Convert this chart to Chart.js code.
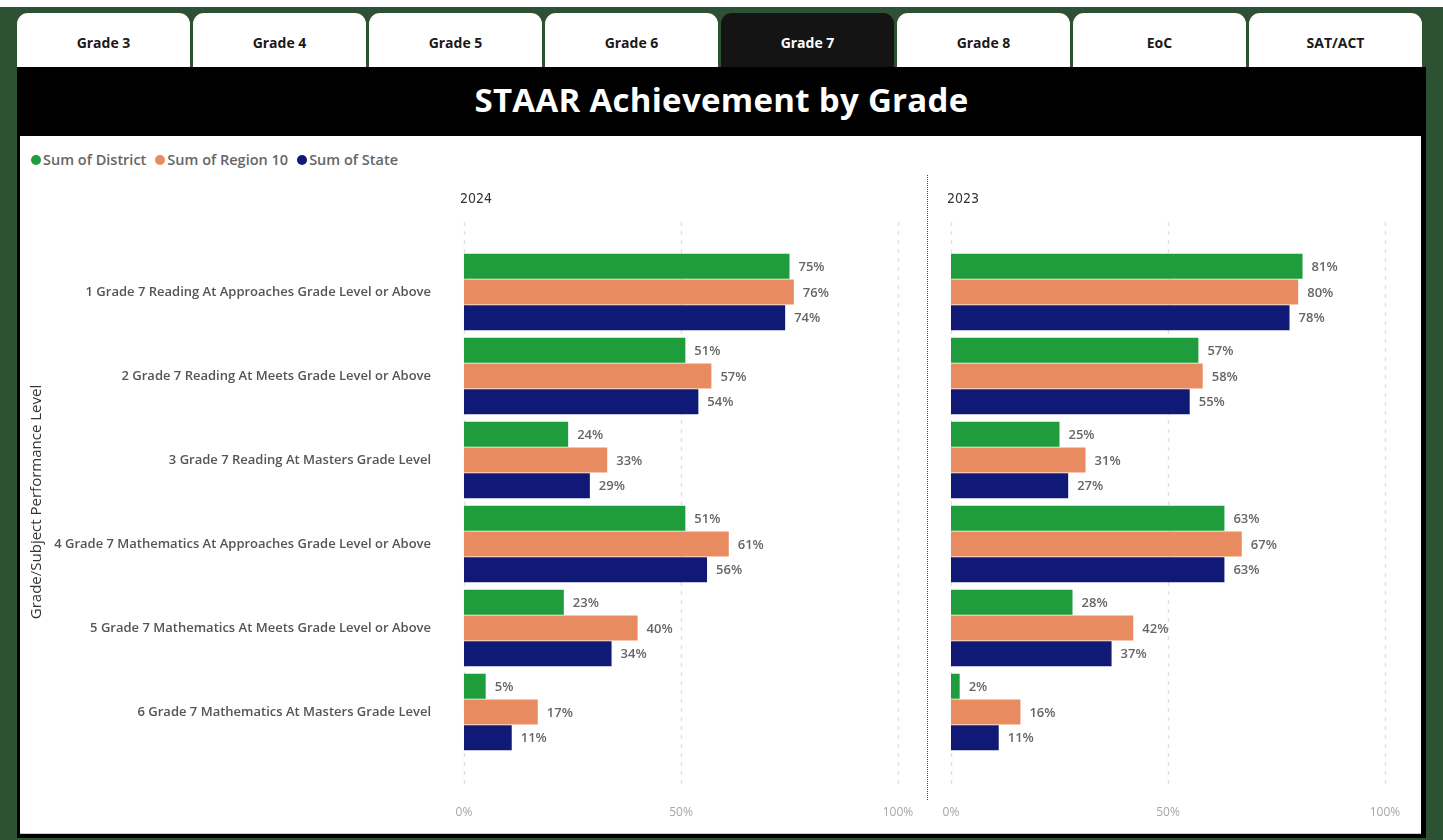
<!DOCTYPE html>
<html>
<head>
<meta charset="utf-8">
<title>STAAR Achievement by Grade</title>
<script src="https://cdn.jsdelivr.net/npm/chart.js@4.4.1/dist/chart.umd.min.js"></script>
<style>
    body { margin: 0; width: 1443px; height: 840px; overflow: hidden; background: #fff; font-family: "Open Sans", sans-serif; position: relative; }
    #bg { position: absolute; left: 0; top: 7px; width: 1443px; height: 833px; background: #2c5233; }
    .tab { position: absolute; top: 13px; width: 173px; height: 54px; padding-top: 5px; box-sizing: border-box; background: #fff; border-radius: 11px 11px 0 0;
           display: flex; align-items: center; justify-content: center; font-weight: 700; font-size: 14px; color: #1a1a1a; }
    .tab.active { background: #141414; color: #fff; }
    #frame { position: absolute; left: 17px; top: 67px; width: 1409px; height: 771px; background: #000; }
    #title { position: absolute; left: 17px; top: 67px; width: 1409px; height: 66px; line-height: 66px; text-align: center;
             color: #fff; font-weight: 700; font-size: 33px; letter-spacing: 0.3px; }
    #panel { position: absolute; left: 20px; top: 136px; width: 1401px; height: 697px; background: #fff; border-bottom: 1px solid #ccc; }
    #legend { position: absolute; left: 31px; top: 150px; display: flex; font-size: 14.5px; font-weight: 600; color: #666; }
    #legend span { display: flex; align-items: center; margin-right: 9px; }
    #legend i { display: inline-block; width: 10px; height: 10px; border-radius: 50%; margin-right: 2px; }
    #sep { position: absolute; left: 927px; top: 175px; height: 625px; border-left: 1px dotted #444; }
    canvas { position: absolute; }
</style>
</head>
<body>
<div id="bg"></div>
<div id="tabs"></div>
<div id="frame"></div>
<div id="title">STAAR Achievement by Grade</div>
<div id="panel"></div>
<div id="legend"></div>
<div id="sep"></div>
<canvas id="chart2024" width="905" height="697" style="left:20px;top:136px;width:905px;height:697px"></canvas>
<canvas id="chart2023" width="490" height="697" style="left:930px;top:136px;width:490px;height:697px"></canvas>

<script>
// 데이터
const tabNames = ['Grade 3', 'Grade 4', 'Grade 5', 'Grade 6', 'Grade 7', 'Grade 8', 'EoC', 'SAT/ACT'];
const activeTab = 'Grade 7';

const categories = [
    '1 Grade 7 Reading At Approaches Grade Level or Above',
    '2 Grade 7 Reading At Meets Grade Level or Above',
    '3 Grade 7 Reading At Masters Grade Level',
    '4 Grade 7 Mathematics At Approaches Grade Level or Above',
    '5 Grade 7 Mathematics At Meets Grade Level or Above',
    '6 Grade 7 Mathematics At Masters Grade Level'
];
const seriesNames = ['Sum of District', 'Sum of Region 10', 'Sum of State'];
const seriesColors = ['#1f9c3c', '#e98b61', '#101a76'];

const district2024 = [75, 51, 24, 51, 23, 5];
const region2024 = [76, 57, 33, 61, 40, 17];
const state2024 = [74, 54, 29, 56, 34, 11];

const district2023 = [81, 57, 25, 63, 28, 2];
const region2023 = [80, 58, 31, 67, 42, 16];
const state2023 = [78, 55, 27, 63, 37, 11];

const xTicks = [0, 50, 100];
const axisTitle = 'Grade/Subject Performance Level';

// 탭 + 범례 (HTML)
const tabsEl = document.getElementById('tabs');
tabNames.forEach((name, i) => {
    const d = document.createElement('div');
    d.className = 'tab' + (name === activeTab ? ' active' : '');
    d.style.left = (17 + i * 176) + 'px';
    d.textContent = name;
    tabsEl.appendChild(d);
});
const legendEl = document.getElementById('legend');
seriesNames.forEach((name, i) => {
    legendEl.insertAdjacentHTML('beforeend', `<span><i style="background:${seriesColors[i]}"></i>${name}</span>`);
});

// 그리드, 연도, 데이터 라벨을 그리는 플러그인
const panelPlugin = {
    id: 'panelPlugin',
    beforeDatasetsDraw(chart, args, opts) {
        const { ctx, scales: { x } } = chart;
        ctx.save();
        ctx.strokeStyle = '#e2e2e2';
        ctx.lineWidth = 1.5;
        ctx.setLineDash([4, 5]);
        xTicks.forEach(t => {
            const px = Math.round(x.getPixelForValue(t)) + 0.5;
            ctx.beginPath();
            ctx.moveTo(px, 86);
            ctx.lineTo(px, 650);
            ctx.stroke();
        });
        ctx.restore();

        ctx.save();
        ctx.fillStyle = '#333';
        ctx.font = '500 14px "DejaVu Sans Condensed", "Open Sans", sans-serif';
        ctx.textBaseline = 'middle';
        ctx.fillText(opts.year, chart.chartArea.left - 4, 63);
        ctx.restore();
    },
    afterDatasetsDraw(chart) {
        const { ctx } = chart;
        ctx.save();
        ctx.font = '600 13px "Open Sans", sans-serif';
        ctx.fillStyle = '#666';
        ctx.textBaseline = 'middle';
        chart.data.datasets.forEach((ds, i) => {
            chart.getDatasetMeta(i).data.forEach((bar, j) => {
                ctx.fillText(ds.data[j] + '%', bar.x + 9, bar.y + 1);
            });
        });
        ctx.restore();
    }
};

function makeDatasets(values) {
    return values.map((data, i) => ({
        label: seriesNames[i],
        data: data,
        backgroundColor: seriesColors[i],
        borderWidth: 0,
        barPercentage: 0.97,
        categoryPercentage: 0.92
    }));
}

function renderPanel(canvasId, year, values, withLabels, padLeft, padRight) {
    const ctx = document.getElementById(canvasId).getContext('2d');
    return new Chart(ctx, {
        type: 'bar',
        data: { labels: categories, datasets: makeDatasets(values) },
        plugins: [panelPlugin],
        options: {
            indexAxis: 'y',
            responsive: false,
            animation: false,
            layout: { padding: { top: 114, bottom: 0, left: padLeft, right: padRight } },
            scales: {
                x: {
                    min: 0,
                    max: 100,
                    afterBuildTicks: scale => { scale.ticks = xTicks.map(v => ({ value: v })); },
                    // 틱 라벨이 plot 폭을 줄이지 않도록
                    afterFit: scale => { scale.height = 79; scale.paddingLeft = 0; scale.paddingRight = 0; },
                    grid: { display: false, drawTicks: false },
                    border: { display: false },
                    ticks: { padding: 51, color: '#a6a6a6', font: { family: '"Open Sans", sans-serif', size: 12 }, callback: v => v + '%' }
                },
                y: {
                    display: withLabels,
                    afterFit: scale => { if (withLabels) scale.width = 444; },
                    grid: { display: false, drawTicks: false },
                    border: { display: false },
                    ticks: { padding: 33, color: '#555', font: { family: '"Open Sans", sans-serif', size: 13, weight: '600' } },
                    title: { display: withLabels, text: axisTitle, color: '#333', padding: { top: 8, bottom: 0 }, font: { family: '"Open Sans", sans-serif', size: 15 } }
                }
            },
            plugins: {
                legend: { display: false },
                tooltip: { enabled: false },
                panelPlugin: { year: year }
            }
        }
    });
}

renderPanel('chart2024', '2024', [district2024, region2024, state2024], true, 0, 27);
renderPanel('chart2023', '2023', [district2023, region2023, state2023], false, 21, 35);
</script>
</body>
</html>
